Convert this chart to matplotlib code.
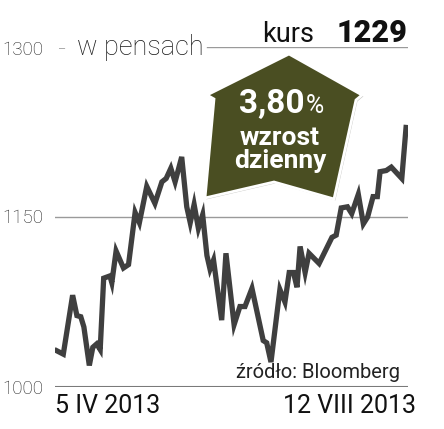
import matplotlib
matplotlib.use("Agg")
import matplotlib.pyplot as plt
from matplotlib.patches import Polygon
import matplotlib.patheffects as pe

plt.rcParams['font.family'] = ['Roboto', 'DejaVu Sans']

# --- data (trading-day offset, price in pence) ---
days = [0, 1.7, 4.1, 5.2, 6.2, 7.0, 8.4, 9.3, 10.3, 11.2, 12.1, 13.7, 14.2,
        15.3, 17.2, 18.5, 20.2, 21.3, 23.2, 25.3, 27.1, 28.2, 29.4, 30.5,
        32.2, 33.5, 34.4, 35.4, 36.5, 37.6, 38.7, 39.5, 40.4, 42.5, 43.6,
        45.7, 47.2, 48.5, 50.3, 53.2, 54.1, 55.2, 57.5, 58.8, 59.9, 61.0,
        61.9, 62.7, 64.0, 65.0, 67.6, 70.9, 72.0, 73.3, 74.9, 76.0, 77.7,
        79.0, 80.1, 81.5, 82.6, 83.3, 84.9, 86.2, 88.9, 90.0]
prices = [1032, 1029, 1081, 1063, 1062, 1053, 1019, 1035, 1038, 1033, 1096,
          1098, 1092, 1120, 1105, 1108, 1154, 1145, 1177, 1162, 1181, 1184,
          1193, 1181, 1203, 1159, 1145, 1161, 1140, 1152, 1116, 1104, 1112,
          1059, 1118, 1055, 1071, 1071, 1087, 1041, 1039, 1022, 1086, 1075,
          1101, 1101, 1088, 1124, 1101, 1118, 1109, 1132, 1134, 1158, 1159,
          1153, 1170, 1144, 1150, 1168, 1168, 1190, 1191, 1194, 1184, 1229]

yticks = [1000, 1150, 1300]
date_labels = ["5 IV 2013", "12 VIII 2013"]
last_price = "1229"
change_pct = "3,80"
unit_label = "w pensach"
source_label = "źródło: Bloomberg"

W, H = 444, 429
fig = plt.figure(figsize=(W / 100, H / 100), dpi=100)
fig.patch.set_facecolor("white")

# axes spans px x 55..408, y 47..387
ax = fig.add_axes([55 / W, (H - 387) / H, (408 - 55) / W, 340 / H])
ax.set_xlim(-0.44, 90.5)
ax.set_ylim(1000, 1300)
ax.axis("off")

# grid lines
ax.axhline(1150, color="#9a9a9a", lw=1.0, zorder=1)
ax.axhline(1000, color="#7a7a7a", lw=1.5, zorder=1)
ax.axhline(1300, xmin=(207 - 55) / 353, xmax=1, color="#9a9a9a", lw=1.0, zorder=1)

ax.plot(days, prices, color="#3f3f3f", lw=3.8, solid_joinstyle="miter", zorder=3)


def fx(x):
    return x / W


def fy(y):
    return (H - y) / H


# y labels, placed by baseline in px
for v, ypx in zip(yticks, [394, 223, 55]):
    fig.text(fx(2), fy(ypx), str(v), fontsize=13.5, fontweight="light",
             color="#222222", ha="left", va="baseline")
fig.text(fx(57), fy(53), "–", fontsize=9, color="#aaaaaa", ha="left", va="baseline")

fig.text(fx(77), fy(55), unit_label, fontsize=19.5, fontweight="light",
         color="#1a1a1a", ha="left", va="baseline")
fig.text(fx(262), fy(42), "kurs", fontsize=19.5, color="#111111",
         ha="left", va="baseline")
fig.text(fx(407), fy(42), last_price, fontsize=22, fontweight="black",
         color="#111111", ha="right", va="baseline")

fig.text(fx(400), fy(378), source_label, fontsize=14.5,
         color="#222222", ha="right", va="baseline")
fig.text(fx(55), fy(413), date_labels[0], fontsize=18, color="#111111",
         ha="left", va="baseline")
fig.text(fx(416), fy(413), date_labels[1], fontsize=18, color="#111111",
         ha="right", va="baseline")

# badge: skewed house shape
house = [(289, 54), (362, 95), (356, 100), (334, 199), (274, 182),
         (205, 198), (214, 99), (207, 95)]
house_fig = [(fx(x), fy(y)) for x, y in house]
badge = Polygon(house_fig, closed=True, transform=fig.transFigure,
                facecolor="#4a4e22", edgecolor="white", lw=2.0, zorder=5,
                path_effects=[pe.SimplePatchShadow(offset=(1, -1), alpha=0.25),
                              pe.Normal()])
fig.patches.append(badge)

fig.text(fx(305), fy(113), change_pct, fontsize=24, fontweight="bold",
         color="white", ha="right", va="baseline", zorder=6)
fig.text(fx(306), fy(113), "%", fontsize=18, color="white",
         ha="left", va="baseline", zorder=6)
fig.text(fx(280), fy(145), "wzrost", fontsize=19, fontweight="bold",
         color="white", ha="center", va="baseline", zorder=6)
fig.text(fx(280), fy(168), "dzienny", fontsize=19, fontweight="bold",
         color="white", ha="center", va="baseline", zorder=6)

fig.savefig("out.png", dpi=100, facecolor="white")
